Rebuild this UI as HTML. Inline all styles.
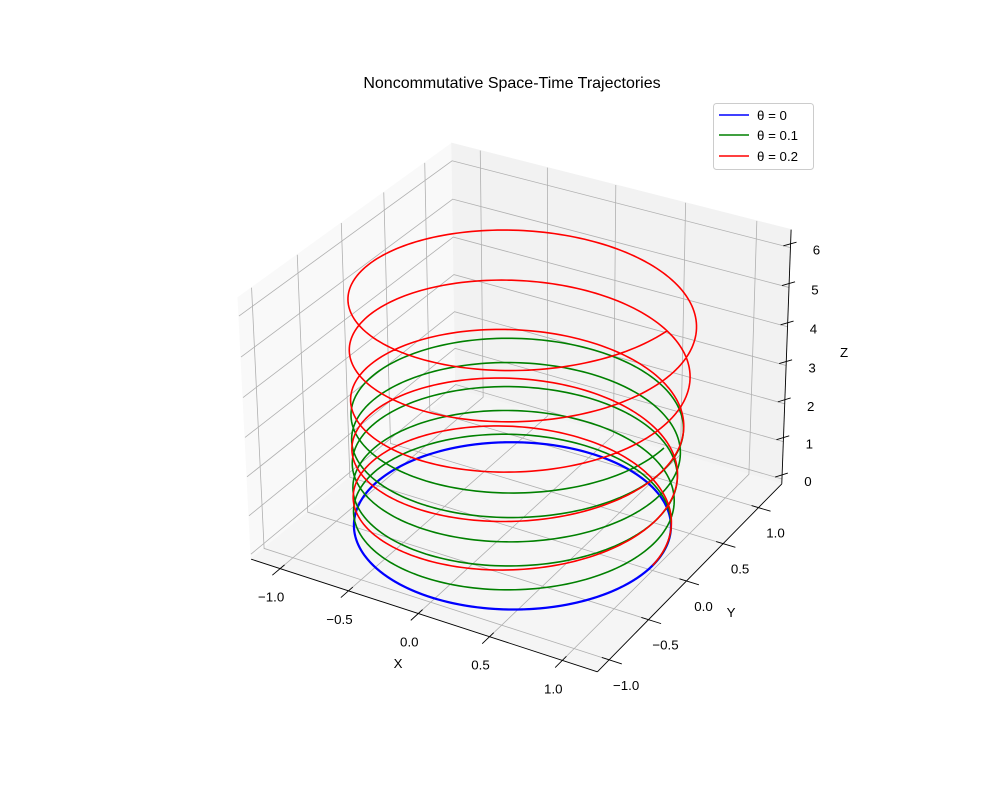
<!DOCTYPE html>
<html><head><meta charset="utf-8"><style>
body{margin:0;background:#fff;}
svg{display:block;font-family:"Liberation Sans","DejaVu Sans",sans-serif;}
</style></head><body>
<svg id="chart" width="1000" height="800" viewBox="0 0 1000 800" xmlns="http://www.w3.org/2000/svg">
<rect width="1000" height="800" fill="#fff"/>
<text x="512" y="88" text-anchor="middle" font-size="16" fill="#000">Noncommutative Space-Time Trajectories</text>
<g id="panes"></g>
<g id="grid"></g>
<g id="axes"></g>
<g id="series"></g>
<text x="398" y="668" text-anchor="middle" font-size="13.3">X</text>
<text x="731" y="617" text-anchor="middle" font-size="13.3">Y</text>
<text x="844" y="357" text-anchor="middle" font-size="13.3">Z</text>
<g>
<rect x="713.5" y="103.5" width="100" height="66" rx="3" fill="#fff" fill-opacity="0.8" stroke="#cccccc"/>
<g><line x1="719" y1="115" x2="749" y2="115" stroke="#0000ff" stroke-width="1.5"/><text x="757" y="120" font-size="13.3">θ = 0</text></g>
<g><line x1="719" y1="135" x2="749" y2="135" stroke="#008000" stroke-width="1.5"/><text x="757" y="140" font-size="13.3">θ = 0.1</text></g>
<g><line x1="719" y1="156" x2="749" y2="156" stroke="#ff0000" stroke-width="1.5"/><text x="757" y="161" font-size="13.3">θ = 0.2</text></g>
</g>
</svg>
<script>
// ---- data ----
const thetas = [0, 0.1, 0.2];
const seriesColors = ["#0000ff", "#008000", "#ff0000"];
const tMax = 10 * Math.PI;
const nSamples = 1000;
const radiusGrowth = 0.012;  // radius growth per unit z
const xDrift = 0.013;        // x drift per unit z
const yDrift = 0.005;        // y drift per unit z
const freqShift = 0.125;     // angular frequency = 1 - freqShift*theta^2
const xTicks = [-1.0, -0.5, 0.0, 0.5, 1.0];
const xTickLabels = ["\u22121.0", "\u22120.5", "0.0", "0.5", "1.0"];
const yTicks = [-1.0, -0.5, 0.0, 0.5, 1.0];
const yTickLabels = ["\u22121.0", "\u22120.5", "0.0", "0.5", "1.0"];
const zTicks = [0, 1, 2, 3, 4, 5, 6];
const zTickLabels = ["0", "1", "2", "3", "4", "5", "6"];
const xLim = [-1.215, 1.237];
const yLim = [-1.145, 1.34];
const zLim = [-0.13, 6.45];

// ---- camera calibration (screen correspondences) ----
const X0=xLim[0],X1=xLim[1],Y0=yLim[0],Y1=yLim[1],Z0=zLim[0],Z1=zLim[1];
const calib = [
 [[X0,Y0,Z0],[251,559]],[[X1,Y0,Z0],[597,672]],[[X1,Y1,Z0],[782,484]],
 [[X1,Y1,Z1],[792,230]],[[X0,Y0,Z1],[238,298]],[[X0,Y1,Z1],[452,143]],
 [[-1,Y0,Z0],[280,568.5]],[[-0.5,Y0,Z0],[349,591]],[[0,Y0,Z0],[418,613.5]],[[0.5,Y0,Z0],[489,636.7]],[[1,Y0,Z0],[562,660.6]],
 [[X1,-1,Z0],[610,659]],[[X1,-0.5,Z0],[648.5,620]],[[X1,0,Z0],[686.5,581]],[[X1,0.5,Z0],[723.5,543.5]],[[X1,1,Z0],[760.5,506]],
 [[X1,Y1,0],[781.2,480]],[[X1,Y1,1],[782.6,442.7]],[[X1,Y1,2],[784.1,404.3]],[[X1,Y1,3],[785.6,365.7]],
 [[X1,Y1,4],[787.2,326]],[[X1,Y1,5],[788.8,286.7]],[[X1,Y1,6],[790.3,247.7]]
];
function norm3(p){return [(p[0]-X0)/(X1-X0),(p[1]-Y0)/(Y1-Y0),(p[2]-Z0)/(Z1-Z0)];}
function solveDLT(){
  const A=[],b=[];
  for(const [P,S] of calib){
    const [X,Y,Z]=norm3(P);const u=(S[0]-500)/500,v=(S[1]-400)/500;
    A.push([X,Y,Z,1,0,0,0,0,-u*X,-u*Y,-u*Z]);b.push(u);
    A.push([0,0,0,0,X,Y,Z,1,-v*X,-v*Y,-v*Z]);b.push(v);
  }
  const n=11,M=[];
  for(let i=0;i<n;i++){M.push([]);for(let j=0;j<=n;j++){let s=0;for(let k=0;k<A.length;k++)s+=A[k][i]*(j<n?A[k][j]:b[k]);M[i].push(s);}}
  for(let c=0;c<n;c++){let p=c;for(let r=c+1;r<n;r++)if(Math.abs(M[r][c])>Math.abs(M[p][c]))p=r;[M[c],M[p]]=[M[p],M[c]];
    for(let r=0;r<n;r++){if(r===c)continue;const f=M[r][c]/M[c][c];for(let j=c;j<=n;j++)M[r][j]-=f*M[c][j];}}
  return M.map((row,i)=>row[n]/row[i]);
}
const m=solveDLT();
function proj(x,y,z){const [X,Y,Z]=norm3([x,y,z]);const w=m[8]*X+m[9]*Y+m[10]*Z+1;
  return [500+500*(m[0]*X+m[1]*Y+m[2]*Z+m[3])/w, 400+500*(m[4]*X+m[5]*Y+m[6]*Z+m[7])/w];}
const NS="http://www.w3.org/2000/svg";
function mk(tag,attrs,parent){const e=document.createElementNS(NS,tag);for(const k in attrs)e.setAttribute(k,attrs[k]);parent.appendChild(e);return e;}
function pts(list){return list.map(p=>{const s=proj(p[0],p[1],p[2]);return s[0].toFixed(2)+","+s[1].toFixed(2);}).join(" ");}

// panes
const panes=document.getElementById("panes");
let e;
e=mk("polygon",{points:pts([[X0,Y0,Z0],[X0,Y1,Z0],[X0,Y1,Z1],[X0,Y0,Z1]]),fill:"#f9f9f9",stroke:"#f9f9f9"},panes);


e=mk("polygon",{points:pts([[X0,Y1,Z0],[X1,Y1,Z0],[X1,Y1,Z1],[X0,Y1,Z1]]),fill:"#f2f2f2",stroke:"#f2f2f2"},panes);


e=mk("polygon",{points:pts([[X0,Y0,Z0],[X1,Y0,Z0],[X1,Y1,Z0],[X0,Y1,Z0]]),fill:"#f5f5f5",stroke:"#f5f5f5"},panes);



// grid
const grid=document.getElementById("grid");
const gs={fill:"none",stroke:"#b0b0b0","stroke-width":"0.8"};
for(const v of xTicks){e=mk("polyline",Object.assign({points:pts([[v,Y0,Z0],[v,Y1,Z0],[v,Y1,Z1]])},gs),grid);

}
for(const v of yTicks){e=mk("polyline",Object.assign({points:pts([[X1,v,Z0],[X0,v,Z0],[X0,v,Z1]])},gs),grid);

}
for(const v of zTicks){e=mk("polyline",Object.assign({points:pts([[X0,Y0,v],[X0,Y1,v],[X1,Y1,v]])},gs),grid);

}

// axes
const axes=document.getElementById("axes");
const as={fill:"none",stroke:"#000","stroke-width":"0.9"};
e=mk("polyline",Object.assign({points:pts([[X0,Y0,Z0],[X1,Y0,Z0]])},as),axes);


e=mk("polyline",Object.assign({points:pts([[X1,Y0,Z0],[X1,Y1,Z0]])},as),axes);


e=mk("polyline",Object.assign({points:pts([[X1,Y1,Z0],[X1,Y1,Z1]])},as),axes);


const ry=Y1-Y0,rx=X1-X0;
xTicks.forEach((v,i)=>{
  e=mk("polyline",Object.assign({points:pts([[v,Y0+0.02*ry,Z0],[v,Y0-0.035*ry,Z0]])},as),axes);
  
  
  const s=proj(v,Y0,Z0);
  e=mk("text",{x:(s[0]-9).toFixed(1),y:(s[1]+33).toFixed(1),"text-anchor":"middle","font-size":"13.3"},axes);
  e.textContent=xTickLabels[i];
  
  
});
yTicks.forEach((v,i)=>{
  e=mk("polyline",Object.assign({points:pts([[X1-0.02*rx,v,Z0],[X1+0.035*rx,v,Z0]])},as),axes);
  
  
  const s=proj(X1,v,Z0);
  e=mk("text",{x:(s[0]+17).toFixed(1),y:(s[1]+30).toFixed(1),"text-anchor":"middle","font-size":"13.3"},axes);
  e.textContent=yTickLabels[i];
  
  
});
zTicks.forEach((v,i)=>{
  e=mk("polyline",Object.assign({points:pts([[X1-0.02*rx,Y1,v],[X1,Y1+0.035*ry,v]])},as),axes);
  
  
  const s=proj(X1,Y1,v);
  e=mk("text",{x:(s[0]+26).toFixed(1),y:(s[1]+7).toFixed(1),"text-anchor":"middle","font-size":"13.3"},axes);
  e.textContent=zTickLabels[i];
  
  
});

// series
const series=document.getElementById("series");
thetas.forEach((th,k)=>{
  const list=[];
  const w=1-freqShift*th*th;
  for(let i=0;i<nSamples;i++){const t=tMax*i/(nSamples-1);const z=th*t;const r=1+radiusGrowth*z;
    list.push([r*Math.cos(w*t)+xDrift*z, r*Math.sin(w*t)+yDrift*z, z]);}
  e=mk("polyline",{points:pts(list),fill:"none",stroke:seriesColors[k],"stroke-width":k===0?"2.2":"1.6","stroke-linejoin":"round"},series);
  
  
});
</script>
</body></html>
